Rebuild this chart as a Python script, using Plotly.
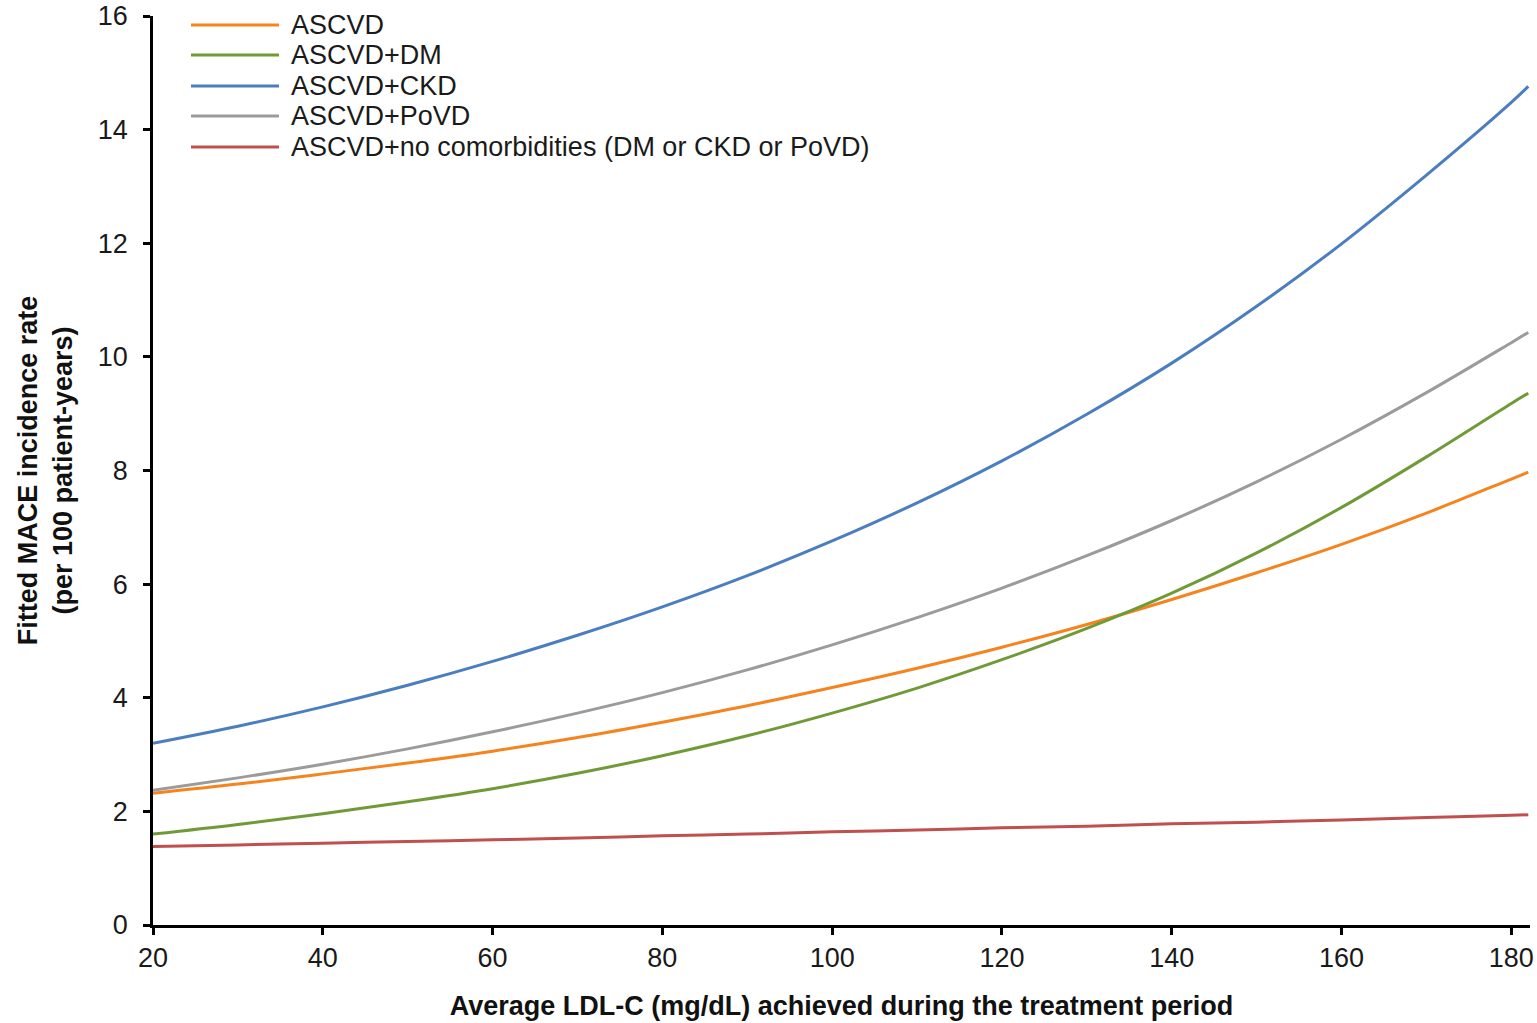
import plotly.graph_objects as go

ldl = [20, 30, 40, 50, 60, 70, 80, 90, 100, 110, 120, 130, 140, 150, 160, 170, 180, 182]

ascvd = [2.32, 2.48, 2.66, 2.85, 3.06, 3.30, 3.57, 3.86, 4.18, 4.52, 4.89, 5.29, 5.73, 6.20, 6.70, 7.25, 7.85, 7.97]
ascvd_dm = [1.60, 1.77, 1.96, 2.17, 2.40, 2.67, 2.98, 3.33, 3.73, 4.17, 4.67, 5.22, 5.84, 6.55, 7.35, 8.24, 9.18, 9.36]
ascvd_ckd = [3.20, 3.50, 3.84, 4.22, 4.64, 5.10, 5.60, 6.15, 6.76, 7.43, 8.17, 8.99, 9.89, 10.89, 11.99, 13.20, 14.48, 14.76]
ascvd_povd = [2.37, 2.59, 2.83, 3.10, 3.40, 3.73, 4.09, 4.49, 4.93, 5.41, 5.93, 6.50, 7.12, 7.80, 8.55, 9.37, 10.25, 10.43]
ascvd_none = [1.38, 1.41, 1.44, 1.47, 1.50, 1.53, 1.57, 1.60, 1.64, 1.67, 1.71, 1.74, 1.78, 1.81, 1.85, 1.89, 1.93, 1.94]

names = ["ASCVD", "ASCVD+DM", "ASCVD+CKD", "ASCVD+PoVD",
         "ASCVD+no comorbidities (DM or CKD or PoVD)"]
series = [ascvd, ascvd_dm, ascvd_ckd, ascvd_povd, ascvd_none]
colors = ["#F5841F", "#6F9A37", "#4A7EBF", "#9B9B9B", "#C0504D"]

x_ticks = [20, 40, 60, 80, 100, 120, 140, 160, 180]
y_ticks = [0, 2, 4, 6, 8, 10, 12, 14, 16]

fig = go.Figure()
for name, ys, col in zip(names, series, colors):
    fig.add_trace(go.Scatter(x=ldl, y=ys, mode="lines", name=name,
                             line=dict(color=col, width=3, shape="spline", smoothing=1.0),
                             showlegend=False, hoverinfo="skip"))

FONT = "Liberation Sans, Arial, sans-serif"
FS = 27

# manual legend (long line samples like the reference)
leg_y = [0.990, 0.957, 0.923, 0.890, 0.856]
for name, col, yy in zip(names, colors, leg_y):
    fig.add_shape(type="line", xref="paper", yref="paper",
                  x0=0.0276, x1=0.0915, y0=yy, y1=yy,
                  line=dict(color=col, width=3))
    fig.add_annotation(xref="paper", yref="paper", x=0.0990, y=yy,
                       text=name, showarrow=False, xanchor="left", yanchor="middle",
                       font=dict(family=FONT, size=FS, color="#1a1a1a"))

fig.update_layout(
    width=1537, height=1023,
    paper_bgcolor="white", plot_bgcolor="white",
    margin=dict(l=153, r=7, t=16, b=98, autoexpand=False),
    font=dict(family=FONT, size=FS, color="#1a1a1a"),
    xaxis=dict(
        range=[20, 182.2], tickvals=x_ticks, ticktext=[str(v) for v in x_ticks],
        showgrid=False, zeroline=False, automargin=False,
        showline=True, linecolor="black", linewidth=2.5,
        ticks="outside", ticklen=7, tickwidth=2.5, tickcolor="black",
        ticklabelstandoff=0,
        tickfont=dict(size=FS, family=FONT, color="#1a1a1a"),
        title=dict(text="<b>Average LDL-C (mg/dL) achieved during the treatment period</b>",
                   font=dict(size=FS, family=FONT, color="#111"), standoff=24),
    ),
    yaxis=dict(
        range=[0, 16], tickvals=y_ticks, ticktext=[str(v) for v in y_ticks],
        showgrid=False, zeroline=False, automargin=False,
        showline=True, linecolor="black", linewidth=2.5,
        ticks="outside", ticklen=7, tickwidth=2.5, tickcolor="black",
        ticklabelstandoff=10,
        tickfont=dict(size=FS, family=FONT, color="#1a1a1a"),
        title=dict(text="<b>Fitted MACE incidence rate<br>(per 100 patient-years)</b>",
                   font=dict(size=FS, family=FONT, color="#111"), standoff=18),
    ),
)

fig.write_html("out.html", config={"displayModeBar": False},
               post_script="document.body.style.margin='0';document.body.style.overflow='hidden';")
